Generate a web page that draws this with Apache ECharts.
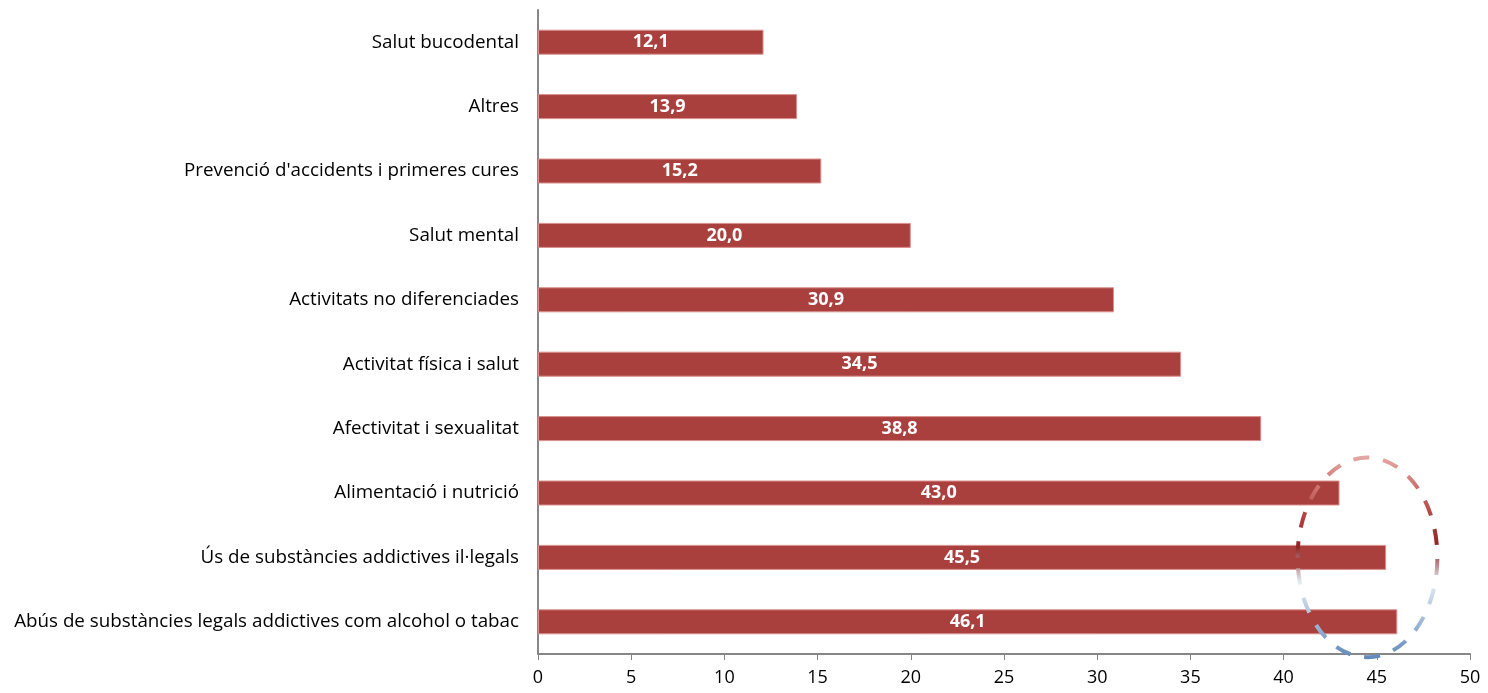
<!DOCTYPE html>
<html>
<head>
<meta charset="utf-8">
<script src="https://cdn.jsdelivr.net/npm/echarts@6/dist/echarts.min.js"></script>
<style>
html,body{margin:0;padding:0;background:#fff;}
#main{width:1488px;height:693px;}
</style>
</head>
<body>
<div id="main"></div>
<script>
// categories from bottom to top
var categories = [
    'Abús de substàncies legals addictives com alcohol o tabac',
    'Ús de substàncies addictives il·legals',
    'Alimentació i nutrició',
    'Afectivitat i sexualitat',
    'Activitat física i salut',
    'Activitats no diferenciades',
    'Salut mental',
    "Prevenció d'accidents i primeres cures",
    'Altres',
    'Salut bucodental'
];
var values = [46.1, 45.5, 43.0, 38.8, 34.5, 30.9, 20.0, 15.2, 13.9, 12.1];

var myChart = echarts.init(document.getElementById('main'));
var option = {
    animation: false,
    backgroundColor: '#fff',
    grid: {left: 538, right: 18, top: 10, bottom: 39},
    xAxis: {
        type: 'value',
        min: 0,
        max: 50,
        interval: 5,
        splitLine: {show: false},
        axisLine: {show: true, lineStyle: {color: '#868686', width: 2}},
        axisTick: {show: true, length: 6, lineStyle: {color: '#868686', width: 1}},
        axisLabel: {color: '#000', fontSize: 18, fontFamily: 'Open Sans', margin: 15}
    },
    yAxis: {
        type: 'category',
        data: categories,
        axisLine: {show: true, lineStyle: {color: '#868686', width: 2}},
        axisTick: {show: false},
        axisLabel: {color: '#000', fontSize: 18.8, fontFamily: 'Open Sans', margin: 19}
    },
    series: [{
        type: 'bar',
        data: values,
        barWidth: 25,
        itemStyle: {color: '#AA403E', borderColor: '#D9908E', borderWidth: 1},
        label: {
            show: true,
            position: 'inside',
            color: '#fff',
            fontSize: 18,
            fontWeight: 'bold',
            fontFamily: 'Open Sans',
            formatter: function (p) {
                return p.value.toFixed(1).replace('.', ',');
            }
        }
    }]
};
myChart.setOption(option);

// dashed ellipse annotation placed from data coordinates
var c = myChart.convertToPixel({gridIndex: 0}, [44.5, 1]);
var c0 = myChart.convertToPixel({gridIndex: 0}, [48.25, 0]);
var band = Math.abs(c0[1] - c[1]);
myChart.setOption({
    graphic: [{
        type: 'ellipse',
        shape: {cx: c[0], cy: c[1], rx: Math.abs(c0[0] - c[0]), ry: band * 1.55},
        style: {
            fill: 'none',
            lineWidth: 4,
            lineDash: [16, 14],
            stroke: new echarts.graphic.LinearGradient(0, 0, 0, 1, [
                {offset: 0, color: '#E6AAA6'},
                {offset: 0.3, color: '#B3413F'},
                {offset: 0.45, color: '#8E2424'},
                {offset: 0.62, color: '#E4ECF4'},
                {offset: 1, color: '#5F87BA'}
            ])
        },
        z: 100
    }]
});
</script>
</body>
</html>
